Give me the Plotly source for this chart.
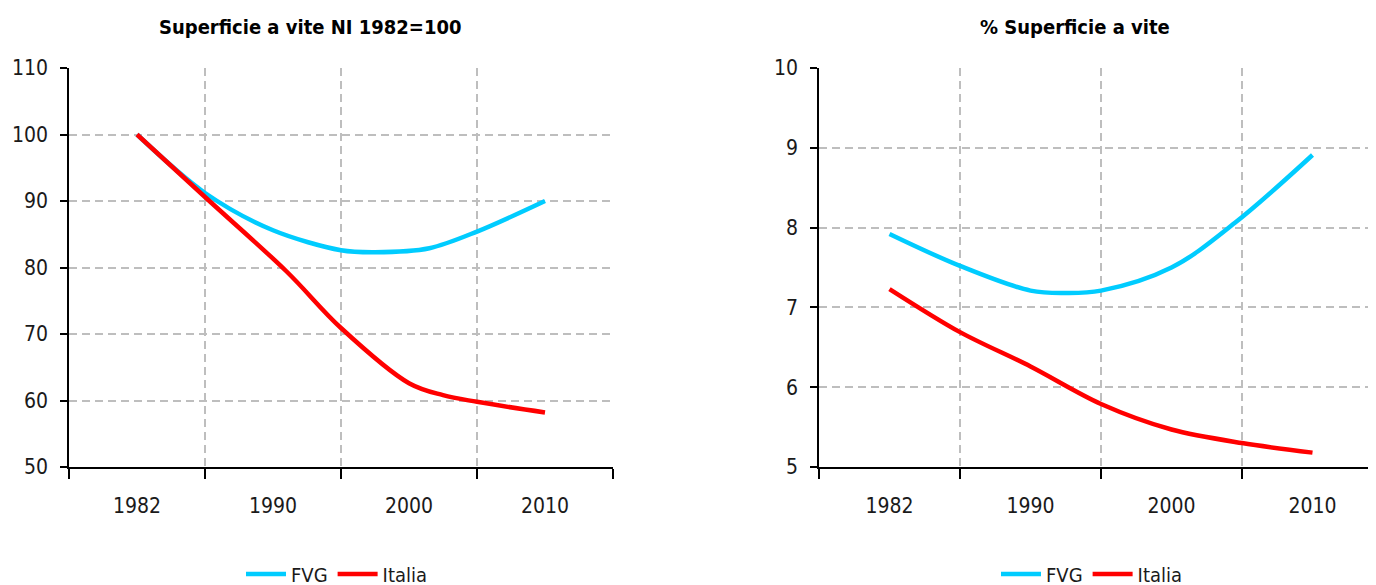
import plotly.graph_objects as go

# ---------------- data ----------------
cat_labels = ["1982", "1990", "2000", "2010"]
cat_index = [0, 1, 2, 3]

# Left chart: Superficie a vite, numero indice 1982=100 (x = position along the category axis)
fvg_idx_x = [0, 0.5, 1.0, 1.5, 1.75, 2.15, 2.5, 3.0]
fvg_idx_y = [100, 91.2, 85.6, 82.6, 82.3, 82.9, 85.4, 90.0]
ita_idx_x = [0, 0.5, 1.1, 1.5, 2.0, 2.25, 2.5, 3.0]
ita_idx_y = [100, 90.6, 79.4, 70.9, 62.6, 60.8, 59.8, 58.2]

# Right chart: % Superficie a vite
fvg_pct_x = [0, 0.5, 1.0, 1.25, 1.5, 2.0, 2.45, 3.0]
fvg_pct_y = [7.92, 7.52, 7.21, 7.18, 7.21, 7.50, 8.06, 8.91]
ita_pct_x = [0, 0.5, 1.0, 1.5, 2.0, 2.5, 3.0]
ita_pct_y = [7.23, 6.69, 6.26, 5.79, 5.47, 5.30, 5.18]

left_yticks = [50, 60, 70, 80, 90, 100, 110]
right_yticks = [5, 6, 7, 8, 9, 10]

series_names = ["FVG", "Italia"]
title_left = "Superficie a vite NI 1982=100"
title_right = "% Superficie a vite"

# ---------------- style ----------------
BLUE = "#00CCFF"
RED = "#FF0000"
GRID = "#BEBEBE"
FONT = "DejaVu Sans Condensed, Liberation Sans Narrow, Open Sans, sans-serif"
TXT = "#1A1A1A"
W, H = 1376, 585
OFF = 8  # page body margin offset


def px_x(p):
    return (p - OFF) / W


def px_y(p):
    return 1 - (p - OFF) / H


fig = go.Figure()
fig.add_trace(go.Scatter(x=fvg_idx_x, y=fvg_idx_y, name=series_names[0], mode="lines",
                         line=dict(color=BLUE, width=4.5, shape="spline", smoothing=0.9),
                         xaxis="x", yaxis="y", legend="legend"))
fig.add_trace(go.Scatter(x=ita_idx_x, y=ita_idx_y, name=series_names[1], mode="lines",
                         line=dict(color=RED, width=4.5, shape="spline", smoothing=1.0),
                         xaxis="x", yaxis="y", legend="legend"))
fig.add_trace(go.Scatter(x=fvg_pct_x, y=fvg_pct_y, name=series_names[0], mode="lines",
                         line=dict(color=BLUE, width=4.5, shape="spline", smoothing=1.0),
                         xaxis="x2", yaxis="y2", legend="legend2"))
fig.add_trace(go.Scatter(x=ita_pct_x, y=ita_pct_y, name=series_names[1], mode="lines",
                         line=dict(color=RED, width=4.5, shape="spline", smoothing=0.9),
                         xaxis="x2", yaxis="y2", legend="legend2"))

ydom = [px_y(467), px_y(68)]


def xaxis(domain, rng, anchor):
    return dict(
        domain=domain, range=rng, anchor=anchor, automargin=False,
        tickmode="array", tickvals=cat_index, ticktext=cat_labels,
        ticks="outside", ticklen=12, tickcolor="rgba(0,0,0,0)",
        showgrid=False, zeroline=False,
        showline=True, linecolor="#000000", linewidth=1.5,
        tickfont=dict(family=FONT, size=21, color=TXT),
        ticklabelstandoff=7,
        minor=dict(tickmode="linear", tick0=-0.5, dtick=1, ticks="outside",
                   ticklen=10, tickwidth=1.5, tickcolor="#000000",
                   showgrid=True, gridcolor=GRID, gridwidth=1.5, griddash="8px,5px"),
        fixedrange=True,
    )


def yaxis(rng, ticks, anchor):
    return dict(
        domain=ydom, range=rng, anchor=anchor, automargin=False,
        tickmode="array", tickvals=ticks,
        ticks="outside", ticklen=7, tickwidth=1.5, tickcolor="#000000",
        showgrid=True, gridcolor=GRID, gridwidth=1.5, griddash="8px,5px",
        zeroline=False, showline=True, linecolor="#000000", linewidth=1.5,
        tickfont=dict(family=FONT, size=21, color=TXT),
        ticklabelstandoff=8,
        fixedrange=True,
    )


# right panel: category width 141 px starting at 819; extends past the window edge
right_end = (W + OFF - 819) / 141 - 0.5

fig.update_layout(
    width=W, height=H,
    margin=dict(l=0, r=0, t=0, b=0, autoexpand=False),
    paper_bgcolor="white", plot_bgcolor="white",
    xaxis=xaxis([px_x(69), px_x(613)], [-0.5, 3.5], "y"),
    yaxis=yaxis([50, 110], left_yticks, "x"),
    xaxis2=xaxis([px_x(819), 1.0], [-0.5, right_end], "y2"),
    yaxis2=yaxis([5, 10], right_yticks, "x2"),
    legend=dict(orientation="h", x=px_x(337), xanchor="center", y=px_y(574), yanchor="middle",
                font=dict(family=FONT, size=20, color=TXT), itemwidth=40,
                tracegroupgap=0, bgcolor="rgba(0,0,0,0)"),
    legend2=dict(orientation="h", x=px_x(1092), xanchor="center", y=px_y(574), yanchor="middle",
                 font=dict(family=FONT, size=20, color=TXT), itemwidth=40,
                 tracegroupgap=0, bgcolor="rgba(0,0,0,0)"),
    annotations=[
        dict(text="<b>" + title_left + "</b>", x=px_x(310), y=px_y(27), xref="paper", yref="paper",
             xanchor="center", yanchor="middle", showarrow=False,
             font=dict(family=FONT, size=20, color="#000000")),
        dict(text="<b>" + title_right + "</b>", x=px_x(1075), y=px_y(27), xref="paper", yref="paper",
             xanchor="center", yanchor="middle", showarrow=False,
             font=dict(family=FONT, size=20, color="#000000")),
    ],
)

fig.write_html("out.html")
